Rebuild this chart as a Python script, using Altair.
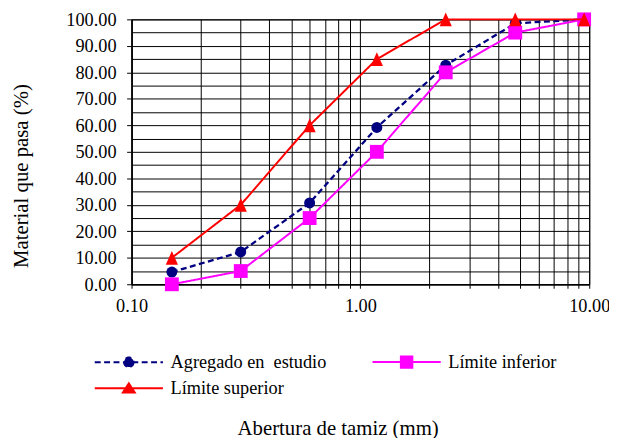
import math
import altair as alt
import pandas as pd

# ---- data ----
sizes = [0.15, 0.30, 0.60, 1.18, 2.36, 4.75, 9.50]
agregado = [4.6, 12.2, 30.7, 59.2, 82.7, 98.5, 100.0]
lim_inf = [0.0, 5.0, 25.0, 50.0, 80.0, 95.0, 100.0]
lim_sup = [10.0, 30.0, 60.0, 85.0, 100.0, 100.0, 100.0]
series_names = ["Agregado en\u00a0 estudio", "Límite inferior", "Límite superior"]
series_colors = ["#000080", "#FF00FF", "#FF0000"]
x_ticks = [0.1, 0.2, 0.3, 0.4, 0.5, 0.6, 0.7, 0.8, 0.9,
           1, 2, 3, 4, 5, 6, 7, 8, 9, 10]
y_ticks = list(range(0, 101, 5))

rows = []
for name, vals in zip(series_names, [agregado, lim_inf, lim_sup]):
    for s, v in zip(sizes, vals):
        rows.append({"abertura": s, "pasa": v, "serie": name})
df = pd.DataFrame(rows)

FONT = "Liberation Serif"

# ---- legend symbols: line + marker paths (units scaled by sqrt(size)/2) ----
L = 6.9
line = f"M{-L},0H{L}"
n = 32
r = 0.96
circ = "M" + "L".join(
    f"{r*math.cos(2*math.pi*i/n):.3f},{r*math.sin(2*math.pi*i/n):.3f}" for i in range(n)) + "Z"
q = 1.16
sq = f"M{-q},{-q}H{q}V{q}H{-q}Z"
tri = "M0,-1.0L1.2,0.85L-1.2,0.85Z"
paths = [line + circ, line + sq, line + tri]
dashes = [[6, 3.5], [1, 0], [1, 0]]

legend = alt.Legend(
    title=None, orient="none", direction="horizontal", legendX=-12, legendY=337, columns=2,
    labelFont=FONT, labelFontSize=18.5, labelColor="black", labelLimit=0,
    labelOffset=33, symbolSize=100, symbolStrokeWidth=2, symbolOpacity=1,
    columnPadding=41, rowPadding=7, padding=0,
)

x = alt.X("abertura:Q",
          scale=alt.Scale(type="log", domain=[0.1, 10], nice=False),
          axis=alt.Axis(values=x_ticks,
                        labelExpr="(datum.value == 0.1 || datum.value == 1 || datum.value == 10) ? format(datum.value, '.2f') : ''",
                        labelFlush=False, labelOverlap=False,
                        tickSize=4, labelPadding=24, labelBaseline="alphabetic",
                        title="Abertura de tamiz (mm)", titleX=208.5, titleY=151.5,
                        titleAlign="center", titleBaseline="alphabetic"))
y = alt.Y("pasa:Q",
          scale=alt.Scale(domain=[0, 100], nice=False),
          axis=alt.Axis(values=y_ticks,
                        labelExpr="datum.value % 10 === 0 ? format(datum.value, '.2f') : ''",
                        labelOverlap=False, tickSize=5, labelPadding=10.7,
                        tickOpacity={"condition": {"test": "datum.value % 10 === 0", "value": 1}, "value": 0},
                        title="Material que pasa (%)", titleX=-105, titleY=158,
                        titleAlign="center", titleBaseline="alphabetic"))

base = alt.Chart(df)
shapes = ["circle", "square", "M0,-1L0.88,1L-0.88,1Z"]
msizes = [123, 196, 196]
line_w = [2.3, 2, 2]
layers = []
for name, col, shp, ms, dsh, lw in zip(series_names, series_colors, shapes, msizes, dashes, line_w):
    sub = base.transform_filter(alt.datum.serie == name)
    layers.append(sub.mark_line(strokeWidth=lw, strokeDash=dsh, color=col).encode(x=x, y=y))
    layers.append(sub.mark_point(filled=True, shape=shp, size=ms, opacity=1, color=col,
                                 strokeWidth=0).encode(x=x, y=y))

# legend-only layer (draws nothing; provides the legend through its scales)
leg_layer = base.transform_filter("false").mark_point(size=100, opacity=1, strokeWidth=2).encode(
    x=x, y=y,
    fill=alt.Fill("serie:N", scale=alt.Scale(domain=series_names, range=series_colors), legend=legend),
    stroke=alt.Stroke("serie:N", scale=alt.Scale(domain=series_names, range=series_colors), legend=legend),
    shape=alt.Shape("serie:N", scale=alt.Scale(domain=series_names, range=paths), legend=legend),
    strokeDash=alt.StrokeDash("serie:N", scale=alt.Scale(domain=series_names, range=dashes), legend=legend),
)
layers.append(leg_layer)

chart = alt.layer(*layers).properties(
    width=463, height=268,
    autosize=alt.AutoSizeParams(type="none"),
    padding={"left": 125, "top": 9, "right": 20, "bottom": 153},
    background="white",
).configure(font=FONT).configure_view(stroke="black", strokeWidth=1).configure_axis(
    labelFont=FONT, labelFontSize=18.5, labelColor="black",
    titleFont=FONT, titleFontSize=21, titleFontWeight="normal", titleColor="black",
    grid=True, gridColor="black", gridWidth=1, gridOpacity=1,
    domainColor="black", domainWidth=1.5, tickColor="black", tickWidth=1,
).configure_legend(labelFont=FONT)

chart.save("out.html", embed_options={"renderer": "svg", "actions": False})
